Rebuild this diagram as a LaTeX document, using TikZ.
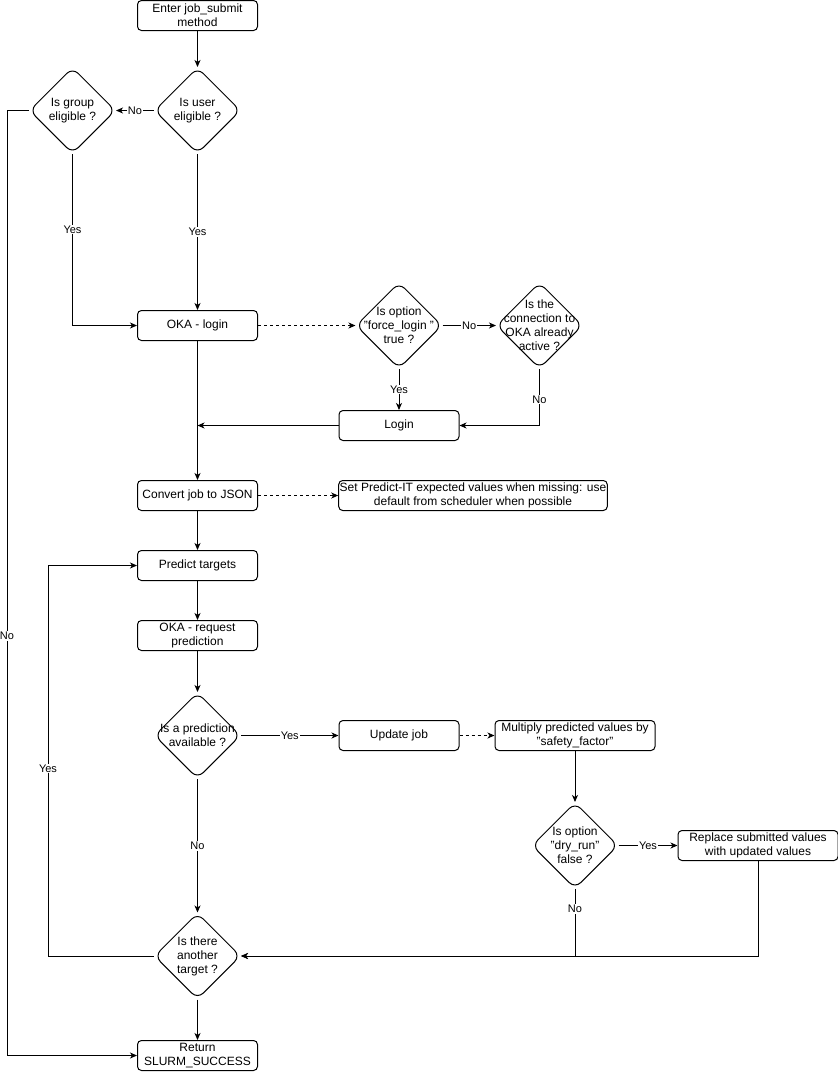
\documentclass[tikz,border=0pt]{standalone}
\usepackage{fontspec}
\setmainfont{Liberation Sans}
\usetikzlibrary{shapes.geometric,arrows.meta}
\begin{document}
\begin{tikzpicture}[x=1pt,y=-1pt,
  box/.style={draw, rounded corners=4pt, minimum width=120pt, minimum height=30pt, inner sep=1pt, align=center, font=\fontsize{12}{14}\selectfont, line width=1pt},
  dia/.style={draw, diamond, rounded corners=8pt, minimum width=86pt, minimum height=86pt, inner sep=0pt, line width=1pt},
  dtext/.style={align=center, inner sep=0pt, font=\fontsize{12}{14}\selectfont},
  lbl/.style={fill=white, inner sep=1pt, font=\fontsize{11}{13}\selectfont},
  arr/.style={-{Stealth[length=7pt,width=6pt,inset=2pt]}, line width=1pt},
  darr/.style={arr, dash pattern=on 3pt off 3pt},
  ln/.style={line width=1pt}]
\useasboundingbox (0,0) rectangle (838,1072);
% nodes
\node[box] (start) at (197.5,15.5) {Enter job\_submit\\method};
\node[dia, label={[dtext]center:{Is user\\eligible ?}}] (user) at (197.5,110.5) {};
\node[dia, label={[dtext]center:{Is group\\eligible ?}}] (group) at (72.5,110.5) {};
\node[box] (oka) at (197.5,325.5) {OKA - login};
\node[dia, label={[dtext]center:{Is option\\"force\_login "\\true ?}}] (force) at (399,325.5) {};
\node[dia, label={[dtext]center:{Is the\\connection to\\OKA already\\active ?}}] (conn) at (539.5,325.5) {};
\node[box] (loginb) at (399,425.5) {Login};
\node[box] (convert) at (197.5,495.5) {Convert job to JSON};
\node[box, minimum width=268pt] (setp) at (473,495.5) {Set Predict-IT expected values when missing: use\\default from scheduler when possible};
\node[box] (predict) at (197.5,565.5) {Predict targets};
\node[box] (request) at (197.5,635.5) {OKA - request\\prediction};
\node[dia, label={[dtext]center:{Is a prediction\\available ?}}] (pred) at (197.5,735.5) {};
\node[box] (update) at (399,735.5) {Update job};
\node[box, minimum width=160pt] (mult) at (575,735.5) {Multiply predicted values by\\"safety\_factor"};
\node[dia, label={[dtext]center:{Is option\\"dry\_run"\\false ?}}] (dry) at (575,845.5) {};
\node[box, minimum width=160pt] (repl) at (758,845.5) {Replace submitted values\\with updated values};
\node[dia, label={[dtext]center:{Is there\\another\\target ?}}] (another) at (197.5,956) {};
\node[box] (ret) at (197.5,1055.5) {Return\\SLURM\_SUCCESS};
% edges
\draw[arr] (start) -- (user);
\draw[arr] (user) -- node[lbl]{No} (group);
\draw[arr] (group.west) -- ++(-22,0) |- node[lbl, pos=0.278]{No} (ret.west);
\draw[arr] (group.south) |- node[lbl, pos=0.22]{Yes} (oka.west);
\draw[arr] (user) -- node[lbl]{Yes} (oka);
\draw[darr] (oka) -- (force);
\draw[arr] (force) -- node[lbl]{No} (conn);
\draw[arr] (force) -- node[lbl]{Yes} (loginb);
\draw[arr] (conn.south) |- node[lbl, pos=0.27]{No} (loginb.east);
\draw[arr] (loginb.west) -- (loginb.west -| oka.south);
\draw[arr] (oka) -- (convert);
\draw[darr] (convert) -- (setp);
\draw[arr] (convert) -- (predict);
\draw[arr] (predict) -- (request);
\draw[arr] (request) -- (pred);
\draw[arr] (pred) -- node[lbl]{Yes} (update);
\draw[darr] (update) -- (mult);
\draw[arr] (mult) -- (dry);
\draw[arr] (dry) -- node[lbl]{Yes} (repl);
\draw[arr] (dry.south) |- node[lbl, pos=0.15]{No} (another.east);
\draw[arr] (repl.south) |- (another.east);
\draw[arr] (pred) -- node[lbl]{No} (another);
\draw[arr] (another.west) -- ++(-106,0) |- node[lbl, pos=0.24]{Yes} (predict.west);
\draw[arr] (another) -- (ret);
\end{tikzpicture}
\end{document}
